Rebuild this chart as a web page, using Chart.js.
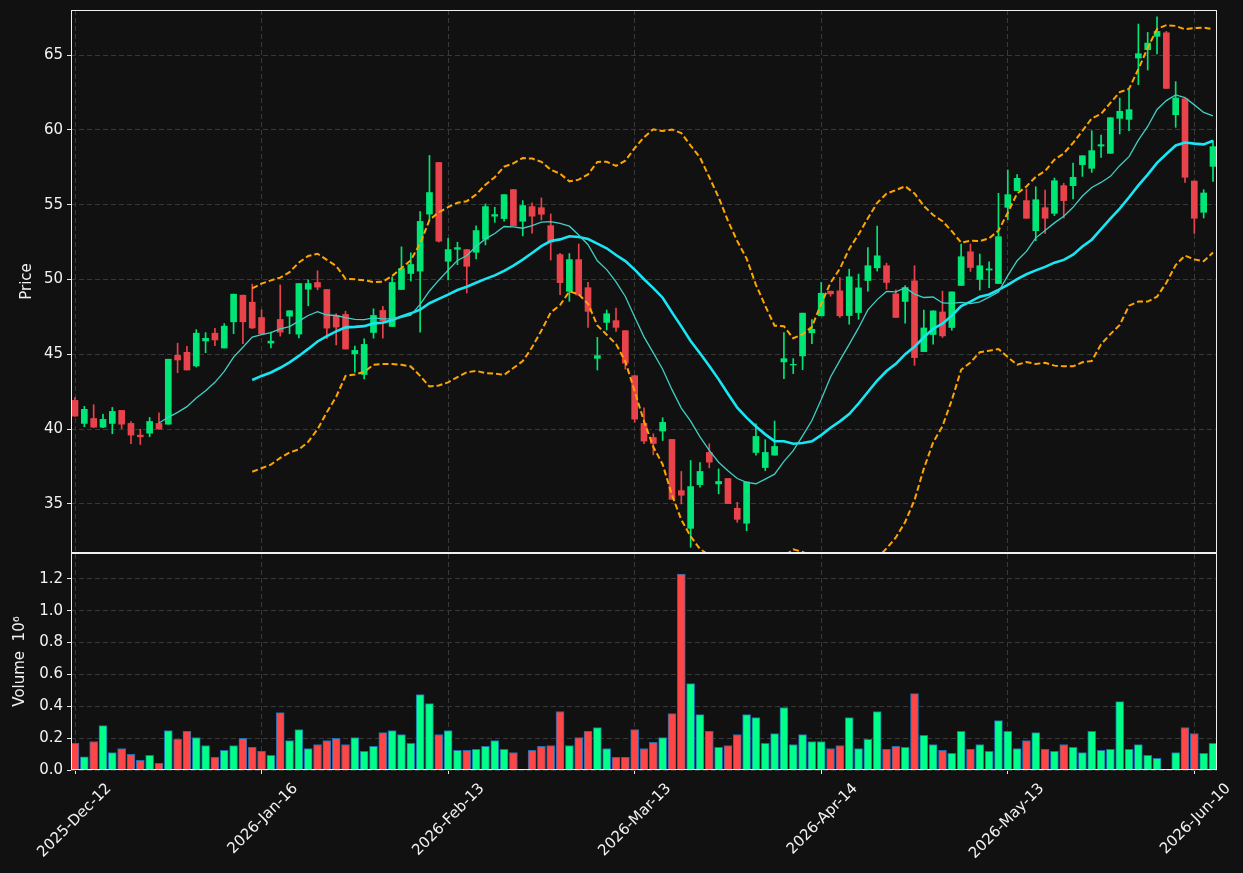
<!DOCTYPE html>
<html>
<head>
<meta charset="utf-8" />
<title>Price / Volume</title>
<script src="https://cdn.jsdelivr.net/npm/chart.js@4.4.1/dist/chart.umd.min.js"></script>
<style>
  html, body { margin: 0; padding: 0; background: #111111; }
  #cvs { display: block; }
</style>
</head>
<body>
<canvas id="cvs" width="1243" height="873"></canvas>
<script>
// tick positions (candle index) and their date labels
const tickIdx = [0, 20, 40, 60, 80, 100, 120];
const tickLabels = ['2025-Dec-12', '2026-Jan-16', '2026-Feb-13', '2026-Mar-13', '2026-Apr-14', '2026-May-13', '2026-Jun-10'];
const priceTicks = [35, 40, 45, 50, 55, 60, 65];
const volTicks = [0, 0.2, 0.4, 0.6, 0.8, 1.0, 1.2];

// OHLC
const opens = [41.92, 40.38, 40.71, 40.13, 40.38, 41.25, 40.38, 39.60, 39.73, 40.38,
  40.33, 44.93, 45.13, 44.22, 45.89, 46.41, 45.42, 47.17, 48.95, 48.48,
  47.46, 45.75, 47.33, 47.55, 46.35, 49.35, 49.80, 49.33, 47.57, 47.66,
  45.03, 43.65, 46.46, 47.93, 46.86, 49.33, 50.40, 50.56, 54.37, 57.82,
  51.22, 52.02, 52.00, 51.82, 52.69, 54.23, 54.07, 56.01, 53.89, 54.87,
  54.80, 53.60, 51.66, 49.21, 51.33, 49.45, 44.73, 47.13, 47.25, 46.58,
  43.57, 40.38, 39.44, 39.87, 39.31, 35.89, 33.37, 36.29, 38.44, 36.34,
  36.70, 34.71, 33.71, 38.44, 37.43, 38.26, 44.49, 44.29, 44.89, 46.43,
  47.57, 49.22, 49.24, 47.59, 47.79, 49.93, 50.78, 50.92, 49.04, 48.53,
  49.91, 45.18, 46.32, 47.83, 46.79, 49.60, 51.85, 50.00, 50.63, 49.73,
  54.82, 55.94, 55.27, 53.26, 54.80, 54.42, 56.27, 56.27, 57.67, 57.43,
  58.92, 58.43, 60.77, 60.70, 64.80, 65.36, 66.25, 66.49, 61.01, 62.08,
  56.58, 54.49, 57.56];
const highs = [42.10, 41.52, 41.63, 40.98, 41.45, 41.25, 40.51, 40.00, 40.78, 41.09,
  44.67, 45.74, 45.54, 46.65, 46.45, 46.74, 47.05, 49.02, 48.95, 49.69,
  47.97, 46.48, 49.64, 47.91, 49.73, 49.98, 50.58, 49.33, 47.71, 47.88,
  45.55, 46.04, 48.04, 48.20, 50.16, 52.18, 51.78, 54.54, 58.29, 57.82,
  52.75, 52.49, 52.00, 53.58, 55.05, 54.83, 55.67, 56.01, 55.27, 55.12,
  55.45, 54.38, 51.75, 51.73, 52.37, 49.81, 46.13, 47.96, 48.09, 46.58,
  43.57, 41.43, 39.69, 40.76, 39.31, 37.17, 37.90, 37.77, 39.02, 37.34,
  36.70, 35.11, 36.47, 40.36, 39.29, 40.54, 46.45, 44.71, 47.75, 47.32,
  49.80, 49.22, 50.13, 50.69, 50.36, 52.14, 53.57, 51.09, 49.31, 49.58,
  50.92, 47.95, 47.90, 49.22, 49.17, 52.37, 52.37, 51.70, 51.18, 55.76,
  57.32, 57.01, 56.05, 56.20, 55.98, 56.78, 56.43, 57.78, 58.27, 59.94,
  59.65, 60.81, 62.13, 62.68, 67.07, 66.51, 67.56, 66.58, 63.22, 62.08,
  56.58, 56.00, 59.28];
const lows = [40.85, 40.16, 40.10, 40.10, 39.69, 40.04, 39.02, 38.97, 39.49, 40.00,
  40.33, 43.77, 43.95, 44.15, 45.11, 45.58, 45.42, 46.38, 45.71, 46.72,
  46.37, 45.43, 46.21, 46.37, 46.10, 48.24, 49.31, 46.04, 45.63, 45.35,
  43.81, 43.36, 46.08, 46.08, 46.86, 49.33, 49.89, 46.48, 53.94, 52.50,
  49.97, 50.99, 49.10, 51.37, 52.31, 53.82, 53.89, 53.60, 52.91, 53.09,
  53.98, 51.30, 48.99, 48.54, 48.96, 46.80, 43.95, 46.62, 46.53, 44.01,
  40.45, 39.02, 38.28, 39.24, 35.31, 35.00, 32.10, 36.12, 37.41, 35.67,
  35.02, 33.77, 33.21, 38.26, 37.23, 38.26, 43.37, 43.71, 43.97, 45.71,
  47.57, 48.88, 47.46, 47.01, 47.34, 49.22, 50.56, 49.35, 47.46, 47.08,
  44.26, 45.18, 45.67, 46.12, 46.61, 49.60, 50.54, 49.29, 49.46, 49.73,
  54.00, 55.94, 54.09, 52.59, 53.08, 54.27, 54.11, 55.38, 56.89, 57.16,
  58.16, 58.43, 59.72, 59.94, 63.02, 64.00, 65.07, 62.77, 60.17, 56.49,
  53.08, 54.11, 56.56];
const closes = [40.87, 41.32, 40.13, 40.65, 41.18, 40.33, 39.60, 39.49, 40.51, 40.00,
  44.67, 44.62, 43.95, 46.41, 46.07, 45.96, 46.88, 49.02, 47.17, 46.76,
  46.37, 45.88, 46.48, 47.91, 49.73, 49.73, 49.49, 46.75, 46.82, 45.35,
  45.26, 45.66, 47.60, 47.22, 49.80, 50.73, 51.00, 53.88, 55.81, 52.56,
  52.00, 52.13, 50.88, 53.27, 54.87, 54.34, 55.67, 53.60, 54.94, 54.23,
  54.36, 52.49, 49.79, 51.33, 48.96, 47.87, 44.91, 47.71, 46.80, 44.41,
  40.67, 39.20, 39.04, 40.45, 35.31, 35.58, 36.16, 37.17, 37.79, 36.50,
  35.02, 33.97, 36.47, 39.51, 38.44, 38.84, 44.71, 44.33, 47.75, 46.67,
  49.08, 49.04, 47.57, 50.18, 49.44, 50.92, 51.58, 49.80, 47.46, 49.46,
  44.78, 46.76, 47.90, 46.23, 49.17, 51.52, 50.80, 50.92, 50.71, 52.86,
  55.67, 56.76, 54.09, 55.33, 54.09, 56.60, 55.27, 56.83, 58.27, 58.61,
  59.01, 60.81, 61.24, 61.35, 65.09, 65.80, 66.58, 62.77, 62.13, 56.83,
  54.09, 55.78, 58.88];
// volume, in millions
const volumes = [0.167, 0.083, 0.179, 0.279, 0.110, 0.135, 0.098, 0.060, 0.092, 0.042,
  0.248, 0.192, 0.242, 0.204, 0.154, 0.079, 0.123, 0.154, 0.198, 0.142,
  0.117, 0.092, 0.360, 0.185, 0.254, 0.135, 0.160, 0.185, 0.198, 0.160,
  0.204, 0.117, 0.148, 0.235, 0.248, 0.223, 0.167, 0.473, 0.417, 0.223,
  0.248, 0.123, 0.123, 0.129, 0.148, 0.185, 0.129, 0.110, 0, 0.123,
  0.148, 0.154, 0.367, 0.154, 0.204, 0.242, 0.267, 0.135, 0.079, 0.079,
  0.254, 0.135, 0.173, 0.204, 0.354, 1.229, 0.542, 0.348, 0.242, 0.142,
  0.154, 0.223, 0.348, 0.329, 0.167, 0.229, 0.392, 0.160, 0.223, 0.179,
  0.179, 0.135, 0.154, 0.329, 0.135, 0.192, 0.367, 0.129, 0.148, 0.142,
  0.479, 0.217, 0.160, 0.123, 0.104, 0.242, 0.129, 0.160, 0.117, 0.310,
  0.242, 0.135, 0.185, 0.235, 0.129, 0.117, 0.160, 0.142, 0.110, 0.242,
  0.123, 0.129, 0.429, 0.129, 0.160, 0.092, 0.073, 0, 0.110, 0.267,
  0.229, 0.104, 0.167];

const UP = '#00e676', DOWN = '#e8434a';
const VUP = '#00ff88', VDOWN = '#ff4646';
const isUp = i => closes[i] >= opens[i];

// moving averages and bollinger bands from the closes
const mean = a => a.reduce((s, v) => s + v, 0) / a.length;
const sd = a => { const m = mean(a); return Math.sqrt(mean(a.map(v => (v - m) * (v - m)))); };
function rolling(vals, n, fn) {
    const out = [];
    for (let i = n - 1; i < vals.length; i++) out.push({ x: i, y: fn(vals.slice(i - n + 1, i + 1)) });
    return out;
}
const ma10 = rolling(closes, 10, mean);
const ma20 = rolling(closes, 20, mean);
const bbUp = rolling(closes, 20, a => mean(a) + 2 * sd(a));
const bbLo = rolling(closes, 20, a => mean(a) - 2 * sd(a));

const bodies = opens.map((o, i) => ({ x: i, y: [o, closes[i]] }));
const wicks = highs.map((h, i) => ({ x: i, y: [lows[i], h] }));
const vols = volumes.map((v, i) => ({ x: i, y: v }));

const TXT = '#f2f2f2';
const FONT = { family: 'DejaVu Sans', size: 15 };

// keep price marks inside the price panel, draw the white frames
const panels = {
    id: 'panels',
    beforeDatasetDraw(chart, args) {
        const ds = chart.data.datasets[args.index];
        const sc = chart.scales[ds.yAxisID];
        const ca = chart.chartArea;
        chart.ctx.save();
        chart.ctx.beginPath();
        chart.ctx.rect(ca.left, sc.top, ca.right - ca.left, sc.bottom - sc.top);
        chart.ctx.clip();
    },
    afterDatasetDraw(chart) {
        chart.ctx.restore();
    },
    afterDraw(chart) {
        const ctx = chart.ctx;
        const ca = chart.chartArea;
        ctx.save();
        ctx.strokeStyle = '#f0f0f0';
        ctx.lineWidth = 1;
        ['y', 'yVol'].forEach(id => {
            const s = chart.scales[id];
            ctx.strokeRect(Math.round(ca.left) + 0.5, Math.round(s.top) + 0.5,
                Math.round(ca.right - ca.left) - 1, Math.round(s.bottom - s.top) - 1);
        });
        ctx.restore();
    }
};

const gridOpts = { color: '#383838', tickColor: '#e8e8e8', tickLength: 4, offset: false };
const borderOpts = { display: false, dash: [5, 3] };
// fixed axis width, no extra room for half labels
const fitY = s => { s.width = 71; s.paddingTop = 0; s.paddingBottom = 0; };

new Chart(document.getElementById('cvs'), {
    type: 'bar',
    data: {
        datasets: [
            { type: 'line', label: 'MA10', data: ma10, yAxisID: 'y', borderColor: '#3fcfc4', borderWidth: 1.3, pointRadius: 0, tension: 0, order: 0 },
            { type: 'line', label: 'MA20', data: ma20, yAxisID: 'y', borderColor: '#18e6f5', borderWidth: 2.6, pointRadius: 0, tension: 0, order: 0 },
            { type: 'line', label: 'BB upper', data: bbUp, yAxisID: 'y', borderColor: '#ffa500', borderWidth: 2, borderDash: [6, 3], pointRadius: 0, tension: 0, order: 0 },
            { type: 'line', label: 'BB lower', data: bbLo, yAxisID: 'y', borderColor: '#ffa500', borderWidth: 2, borderDash: [6, 3], pointRadius: 0, tension: 0, order: 0 },
            { label: 'Body', data: bodies, yAxisID: 'y', grouped: false, barThickness: 6,
              backgroundColor: c => isUp(c.dataIndex) ? UP : DOWN, order: 1 },
            { label: 'Wick', data: wicks, yAxisID: 'y', grouped: false, barThickness: 1,
              backgroundColor: c => isUp(c.dataIndex) ? UP : DOWN, order: 2 },
            { label: 'Volume', data: vols, yAxisID: 'yVol', grouped: false, barThickness: 8,
              backgroundColor: c => isUp(c.dataIndex) ? VUP : VDOWN,
              borderColor: '#1f6fb0', borderWidth: 1, order: 3 }
        ]
    },
    options: {
        responsive: false,
        animation: false,
        events: [],
        layout: { padding: { top: 10, right: 26, bottom: 0, left: 0 } },
        plugins: { legend: { display: false }, tooltip: { enabled: false } },
        scales: {
            x: {
                type: 'linear', min: -0.43, max: 122.43, offset: false,
                afterBuildTicks: s => { s.ticks = tickIdx.map(v => ({ value: v })); },
                afterFit: s => { s.height = 103; },
                grid: gridOpts, border: borderOpts,
                ticks: {
                    color: TXT, font: FONT, autoSkip: false, minRotation: 45, maxRotation: 45,
                    padding: 6, labelOffset: 34,
                    callback: v => { const k = tickIdx.indexOf(v); return k >= 0 ? tickLabels[k] : ''; }
                }
            },
            yVol: {
                type: 'linear', position: 'left', stack: 'panels', stackWeight: 217,
                min: 0, max: 1.362,
                afterBuildTicks: s => { s.ticks = volTicks.map(v => ({ value: v })); },
                afterFit: fitY,
                grid: gridOpts, border: borderOpts,
                ticks: { color: TXT, font: FONT, padding: 4, autoSkip: false, callback: v => v.toFixed(1) },
                title: { display: true, text: 'Volume  10\u2076', color: TXT, font: FONT, padding: { top: 11, bottom: 0 } }
            },
            y: {
                type: 'linear', position: 'left', stack: 'panels', stackWeight: 543,
                min: 31.72, max: 68.01,
                afterBuildTicks: s => { s.ticks = priceTicks.map(v => ({ value: v })); },
                afterFit: fitY,
                grid: gridOpts, border: borderOpts,
                ticks: { color: TXT, font: FONT, padding: 4, autoSkip: false },
                title: { display: true, text: 'Price', color: TXT, font: FONT, padding: { top: 18, bottom: 0 } }
            }
        }
    },
    plugins: [panels]
});
</script>
</body>
</html>
